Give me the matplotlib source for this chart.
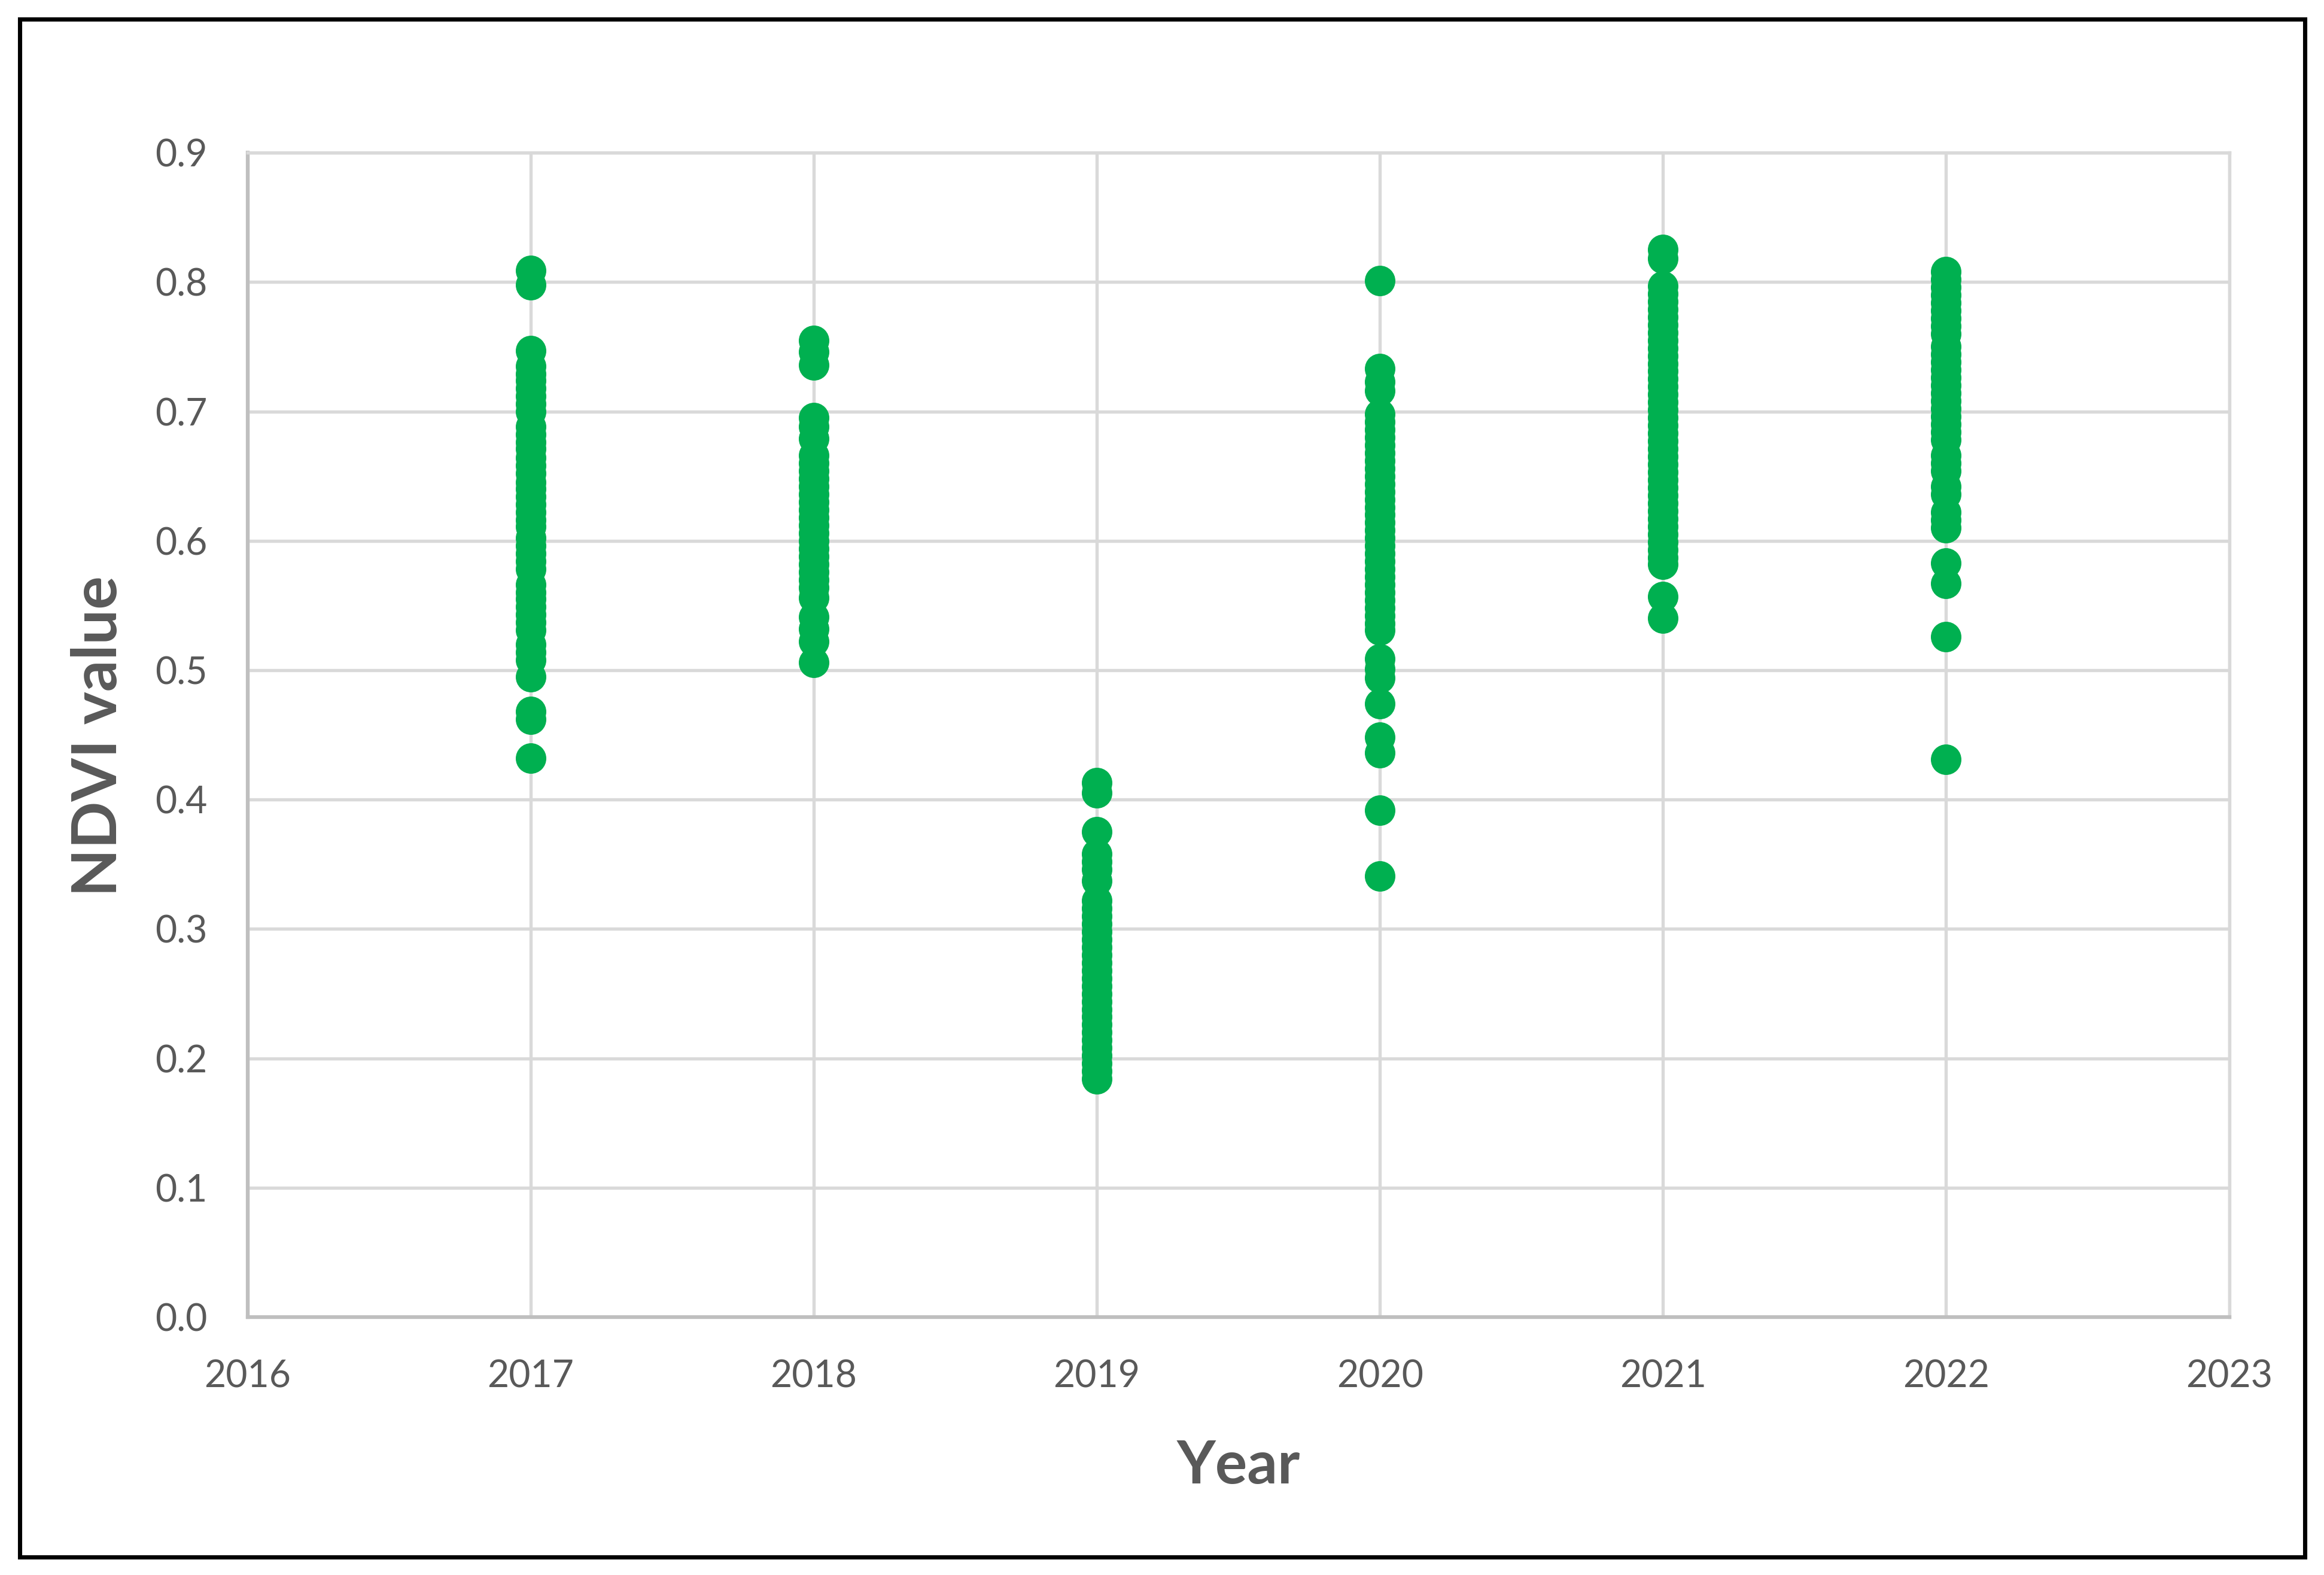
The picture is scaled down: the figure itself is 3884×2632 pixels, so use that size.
import numpy as np
import matplotlib
matplotlib.use("Agg")
import matplotlib.pyplot as plt
from matplotlib.patches import Rectangle

plt.rcParams['font.family'] = ['Lato', 'DejaVu Sans']

# NDVI values, one list per year
ndvi_2017 = [0.809, 0.798, 0.747, 0.735, 0.729, 0.724, 0.718, 0.712, 0.706, 0.700,
             0.688, 0.682, 0.676, 0.671, 0.664, 0.658, 0.652, 0.645, 0.640, 0.634,
             0.628, 0.622, 0.616, 0.611, 0.602, 0.596, 0.590, 0.584, 0.578, 0.566,
             0.560, 0.555, 0.549, 0.543, 0.537, 0.531, 0.520, 0.514, 0.508, 0.495,
             0.468, 0.462, 0.432]
ndvi_2018 = [0.755, 0.746, 0.736, 0.695, 0.688, 0.679, 0.666, 0.660, 0.654, 0.648,
             0.642, 0.636, 0.630, 0.624, 0.618, 0.612, 0.606, 0.600, 0.594, 0.588,
             0.582, 0.576, 0.570, 0.564, 0.556, 0.541, 0.532, 0.522, 0.506]
ndvi_2019 = [0.413, 0.405, 0.375, 0.358, 0.352, 0.346, 0.337, 0.322, 0.316, 0.310,
             0.304, 0.298, 0.292, 0.286, 0.280, 0.274, 0.268, 0.262, 0.256, 0.250,
             0.244, 0.238, 0.232, 0.226, 0.220, 0.214, 0.208, 0.202, 0.196, 0.190,
             0.184]
ndvi_2020 = [0.801, 0.733, 0.723, 0.716, 0.698, 0.692, 0.686, 0.680, 0.674, 0.668,
             0.662, 0.656, 0.650, 0.644, 0.638, 0.632, 0.626, 0.620, 0.614, 0.608,
             0.602, 0.596, 0.590, 0.584, 0.578, 0.572, 0.566, 0.560, 0.554, 0.548,
             0.542, 0.536, 0.531, 0.509, 0.501, 0.494, 0.474, 0.448, 0.436, 0.392,
             0.341]
ndvi_2021 = [0.825, 0.818, 0.797, 0.791, 0.785, 0.779, 0.773, 0.767, 0.761, 0.755,
             0.749, 0.743, 0.737, 0.731, 0.725, 0.719, 0.713, 0.707, 0.701, 0.695,
             0.689, 0.683, 0.677, 0.671, 0.665, 0.659, 0.653, 0.647, 0.641, 0.635,
             0.629, 0.623, 0.617, 0.611, 0.605, 0.599, 0.593, 0.587, 0.582, 0.557,
             0.540]
ndvi_2022 = [0.808, 0.802, 0.796, 0.790, 0.784, 0.778, 0.772, 0.766, 0.760, 0.750,
             0.744, 0.738, 0.732, 0.726, 0.720, 0.714, 0.708, 0.702, 0.696, 0.690,
             0.684, 0.678, 0.666, 0.660, 0.654, 0.642, 0.636, 0.622, 0.616, 0.610,
             0.583, 0.567, 0.526, 0.431]

years = [2017, 2018, 2019, 2020, 2021, 2022]
ndvi_by_year = [ndvi_2017, ndvi_2018, ndvi_2019, ndvi_2020, ndvi_2021, ndvi_2022]

x_ticks = [2016, 2017, 2018, 2019, 2020, 2021, 2022, 2023]
y_ticks = [0.0, 0.1, 0.2, 0.3, 0.4, 0.5, 0.6, 0.7, 0.8, 0.9]

green = "#00B050"
text_grey = "#595959"
grid_grey = "#D9D9D9"

fig = plt.figure(figsize=(3884 / 300, 2632 / 300), dpi=300)
ax = fig.add_axes([0.1065, 0.1637, 0.9592 - 0.1065, 0.9031 - 0.1637])

for yr, vals in zip(years, ndvi_by_year):
    ax.scatter([yr] * len(vals), vals, s=150, color=green, linewidths=0, zorder=3)

ax.set_xlim(2016, 2023)
ax.set_ylim(0, 0.9)
ax.set_xticks(x_ticks)
ax.set_yticks(y_ticks)
ax.set_xticklabels([str(t) for t in x_ticks])
ax.set_yticklabels([f"{t:.1f}" for t in y_ticks])
ax.tick_params(axis='both', length=0, labelsize=15, colors=text_grey)
ax.tick_params(axis='x', pad=17)
ax.tick_params(axis='y', pad=16)

ax.grid(True, color=grid_grey, linewidth=1.3, zorder=0)
ax.set_axisbelow(True)
for side in ["top", "right"]:
    ax.spines[side].set_color(grid_grey)
    ax.spines[side].set_linewidth(1.3)
for side in ["left", "bottom"]:
    ax.spines[side].set_color("#BFBFBF")
    ax.spines[side].set_linewidth(1.5)

ax.set_xlabel("Year", fontsize=24, fontweight="bold", color=text_grey)
ax.set_ylabel("NDVI value", fontsize=25, fontweight="bold", color=text_grey)
ax.xaxis.set_label_coords(0.5, -0.105)
ax.yaxis.set_label_coords(-0.061, 0.499)

# black frame around the whole chart
fig.patches.append(Rectangle((0.0085, 0.0114), 0.9917 - 0.0085, 0.9878 - 0.0114,
                             transform=fig.transFigure, fill=False,
                             edgecolor="black", linewidth=1.7))

fig.savefig("out.png", dpi=300, facecolor="white")
